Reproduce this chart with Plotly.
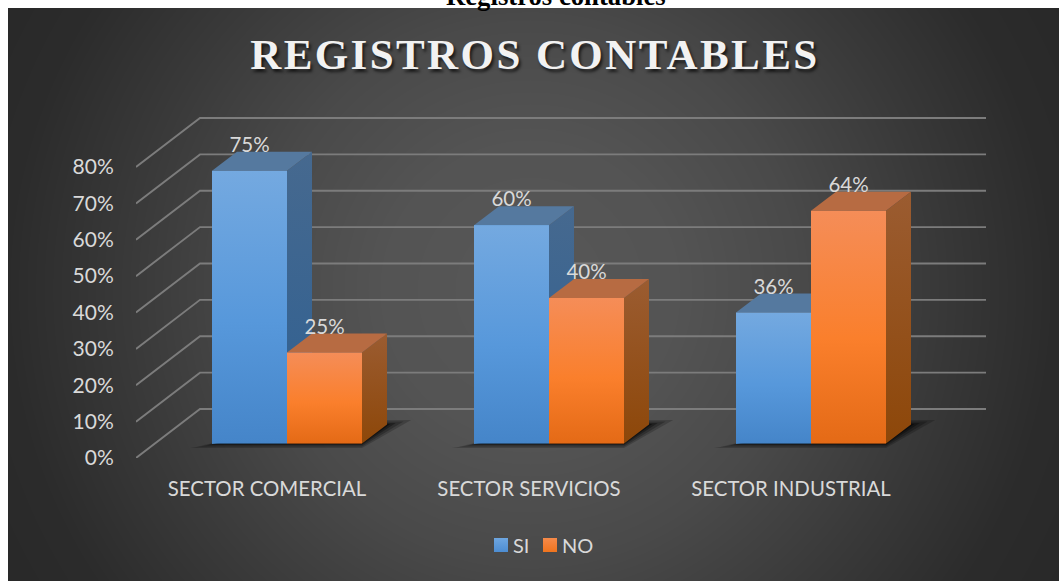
import base64, struct, zlib
import numpy as np
import plotly.graph_objects as go

categories = ["SECTOR COMERCIAL", "SECTOR SERVICIOS", "SECTOR INDUSTRIAL"]
si_values = [75, 60, 36]
no_values = [25, 40, 64]
y_ticks = [0, 10, 20, 30, 40, 50, 60, 70, 80]
y_tick_labels = ["0%", "10%", "20%", "30%", "40%", "50%", "60%", "70%", "80%"]
chart_title = "REGISTROS CONTABLES"
page_heading = "Registros contables"

W, H = 1059, 581
PL, PR, PT, PB = 136, 986, 117, 458
PX_X = 262.0          # px per category
PX_Y = 291 / 80       # px per percent
x0_val = -(267 - PL) / PX_X
x1_val = x0_val + (PR - PL) / PX_X
y1_val = (PB - PT) / PX_Y


def png_uri(arr):
    h, w = arr.shape
    raw = b"".join(b"\x00" + arr[r].tobytes() for r in range(h))
    def chunk(t, d):
        return struct.pack(">I", len(d)) + t + d + struct.pack(">I", zlib.crc32(t + d) & 0xffffffff)
    data = (b"\x89PNG\r\n\x1a\n" + chunk(b"IHDR", struct.pack(">IIBBBBB", w, h, 8, 0, 0, 0, 0))
            + chunk(b"IDAT", zlib.compress(raw, 9)) + chunk(b"IEND", b""))
    return "data:image/png;base64," + base64.b64encode(data).decode()


yy, xx = np.mgrid[8:H, 8:W]
r = np.hypot(xx - 530, (yy - 290))
bg = np.interp(r, [0, 150, 270, 400, 520, 620], [88, 84, 74, 58, 44, 40])
bg_uri = png_uri(bg.astype(np.uint8))

# oblique depth offsets (axis units)
WALL_DX, WALL_DY = 64 / PX_X, 49 / PX_Y
BAR_SHIFT, BAR_BASE = 20 / PX_X, 14.5 / PX_Y
BAR_W = 75 / PX_X
DEPTH_DX, DEPTH_DY = 25 / PX_X, 19 / PX_Y

fig = go.Figure()
ticks_x = list(range(len(categories)))
left_x = [t + BAR_SHIFT - BAR_W for t in ticks_x]
right_x = [t + BAR_SHIFT for t in ticks_x]

fig.add_trace(go.Bar(name="SI", x=[x + BAR_W / 2 for x in left_x], y=si_values, base=BAR_BASE, width=BAR_W,
                     marker=dict(color="#5b9bd5", line=dict(width=0)), hoverinfo="skip"))
fig.add_trace(go.Bar(name="NO", x=[x + BAR_W / 2 for x in right_x], y=no_values, base=BAR_BASE, width=BAR_W,
                     marker=dict(color="#f97d27", line=dict(width=0)), hoverinfo="skip"))


def poly(xs, ys, fill=None, grad=None):
    kw = dict(fillcolor=fill) if fill else dict(fillgradient=dict(type="vertical", colorscale=grad))
    fig.add_trace(go.Scatter(x=xs, y=ys, mode="lines", fill="toself", line=dict(width=0),
                             showlegend=False, hoverinfo="skip", **kw))


# walls / grid lines
for t in y_ticks:
    xs = [x0_val, x0_val + WALL_DX, x1_val]
    ys = [t, t + WALL_DY, t + WALL_DY]
    fig.add_trace(go.Scatter(x=xs, y=ys, mode="lines", showlegend=False, hoverinfo="skip",
                             line=dict(color="#7c7c7c", width=1.9)))

# floor shadows
for i in ticks_x:
    for pad, alpha in ((22, 0.2), (15, 0.25), (8, 0.32), (3, 0.45)):
        p = pad / PX_X
        q = (pad * 0.2) / PX_Y
        poly([left_x[i] - p, right_x[i] + BAR_W, right_x[i] + BAR_W + DEPTH_DX + 1.1 * p,
              right_x[i] + BAR_W],
             [BAR_BASE - q, BAR_BASE - q, BAR_BASE + DEPTH_DY + q, BAR_BASE + DEPTH_DY + q],
             fill=f"rgba(0,0,0,{alpha})")

STY = {
    "SI": dict(front=[[0, "#4585c9"], [0.45, "#5798db"], [1, "#74a9e0"]],
               side=[[0, "#2f6092"], [1, "#46698f"]], top="#55799f"),
    "NO": dict(front=[[0, "#e46a16"], [0.45, "#fa7f2c"], [1, "#f58d58"]],
               side=[[0, "#8d4709"], [1, "#9b5c31"]], top="#b76b42"),
}


def box(xl, v, sty):
    xr = xl + BAR_W
    b = BAR_BASE
    t = b + v
    poly([xr, xr + DEPTH_DX, xr + DEPTH_DX, xr, xr], [b, b + DEPTH_DY, t + DEPTH_DY, t, b], grad=sty["side"])
    poly([xl, xr, xr + DEPTH_DX, xl + DEPTH_DX, xl], [t, t, t + DEPTH_DY, t + DEPTH_DY, t], fill=sty["top"])
    poly([xl, xr, xr, xl, xl], [b, b, t, t, b], grad=sty["front"])


for i in ticks_x:
    box(left_x[i], si_values[i], STY["SI"])
    box(right_x[i], no_values[i], STY["NO"])

# data labels
LABEL_UP = 24 / PX_Y
for xs_left, vals in ((left_x, si_values), (right_x, no_values)):
    fig.add_trace(go.Scatter(
        x=[x + BAR_W / 2 for x in xs_left], y=[v + BAR_BASE + LABEL_UP for v in vals],
        mode="text", text=[f"{v}%" for v in vals], textposition="middle center",
        textfont=dict(family="Lato", size=20.5, color="#d9d9d9"),
        showlegend=False, hoverinfo="skip", cliponaxis=False))

fig.update_layout(
    width=W, height=H, autosize=False,
    margin=dict(l=PL, r=W - PR, t=PT, b=H - PB, pad=0),
    paper_bgcolor="white", plot_bgcolor="rgba(0,0,0,0)",
    barmode="overlay", bargap=0,
    font=dict(family="Lato", color="#d9d9d9", size=20),
    xaxis=dict(range=[x0_val, x1_val], tickmode="array", tickvals=ticks_x, ticktext=categories,
               showgrid=False, zeroline=False, showline=False, ticks="outside", ticklen=13,
               tickcolor="rgba(0,0,0,0)", tickfont=dict(family="Lato", size=20.4, color="#d9d9d9"),
               fixedrange=True),
    yaxis=dict(range=[0, y1_val], tickmode="array", tickvals=y_ticks, ticktext=y_tick_labels,
               showgrid=False, zeroline=False, showline=False, ticks="outside", ticklen=17,
               tickcolor="rgba(0,0,0,0)", tickfont=dict(family="Lato", size=21, color="#d9d9d9"),
               fixedrange=True),
    legend=dict(orientation="h", x=530 / W, y=1 - 545 / H, xanchor="center", yanchor="middle",
                xref="container", yref="container", bgcolor="rgba(0,0,0,0)",
                entrywidth=4, entrywidthmode="pixels",
                font=dict(family="Lato", size=20, color="#d9d9d9")),
    images=[dict(source=bg_uri, xref="paper", yref="paper",
                 x=(8 - PL) / (PR - PL), y=(PB - 8) / (PB - PT),
                 sizex=(W - 8) / (PR - PL), sizey=(H - 8) / (PB - PT),
                 xanchor="left", yanchor="top", sizing="stretch", layer="below")],
    annotations=[
        dict(text=chart_title, xref="paper", yref="paper", showarrow=False,
             x=(535 - PL) / (PR - PL), y=(PB - 55) / (PB - PT), xanchor="center", yanchor="middle",
             font=dict(family="Liberation Serif", size=43, color="#f2f2f2", weight="bold",
                       shadow="2px 3px 3px rgba(0,0,0,0.65)")),
        dict(text=page_heading, xref="paper", yref="paper", showarrow=False,
             x=(556 - PL) / (PR - PL), y=(PB + 4.5) / (PB - PT), xanchor="center", yanchor="middle",
             font=dict(family="Liberation Serif", size=26.7, color="#000000", weight="bold")),
    ],
)

post = """
document.body.style.margin='0';
document.body.style.overflow='hidden';
document.querySelectorAll('.annotation-text').forEach(function(t){
  if(t.textContent==='REGISTROS CONTABLES'){t.style.letterSpacing='2.4px';}
});
document.querySelectorAll('.legend .scrollbox').forEach(function(s){s.removeAttribute('clip-path');s.style.clipPath='none';});
document.querySelectorAll('.legend .legendtoggle').forEach(function(s){s.style.pointerEvents='none';});
document.querySelectorAll('.legendtext').forEach(function(t){t.setAttribute('x','32');t.removeAttribute('clip-path');});
var ns='http://www.w3.org/2000/svg';
var svg=document.querySelector('.main-svg');
var defs=svg.querySelector('defs');
function mk(id,c0,c1){var g=document.createElementNS(ns,'linearGradient');g.setAttribute('id',id);
 g.setAttribute('x1','0');g.setAttribute('y1','0');g.setAttribute('x2','0');g.setAttribute('y2','1');
 [[0,c0],[1,c1]].forEach(function(s){var e=document.createElementNS(ns,'stop');e.setAttribute('offset',s[0]);e.setAttribute('stop-color',s[1]);g.appendChild(e);});
 defs.appendChild(g);}
mk('lg-si','#6ea6e0','#4d8dd2');mk('lg-no','#f68a4a','#f0741e');
document.querySelectorAll('.legend .legendpoints path').forEach(function(p,i){
 p.setAttribute('d','M7,7H-7V-7H7Z');p.style.fill='url(#'+(i===0?'lg-si':'lg-no')+')';});
"""
fig.write_html("out.html", post_script=post, config={"displayModeBar": False})
